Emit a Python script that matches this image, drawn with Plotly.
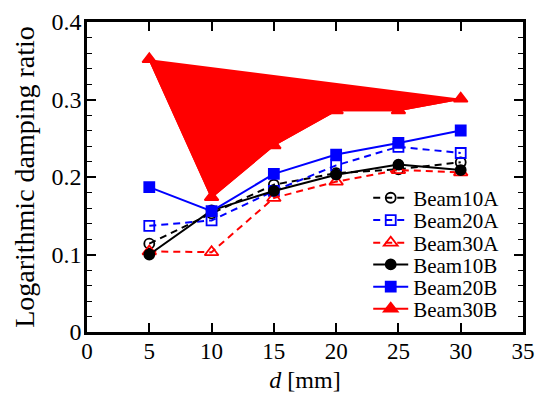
import plotly.graph_objects as go

d = [5, 10, 15, 20, 25, 30]
beam10A = [0.114, 0.153, 0.190, 0.205, 0.210, 0.219]
beam20A = [0.137, 0.144, 0.182, 0.215, 0.239, 0.231]
beam30A = [0.104, 0.103, 0.173, 0.194, 0.209, 0.206]
beam10B = [0.100, 0.157, 0.182, 0.203, 0.216, 0.209]
beam20B = [0.187, 0.156, 0.204, 0.229, 0.244, 0.260]
beam30B = [0.352, 0.174, 0.241, 0.286, 0.286, 0.301]

FONT = "Liberation Serif, Times New Roman, serif"
fig = go.Figure()

# filled polygon for Beam30B (closes back to first point)
fig.add_trace(go.Scatter(x=d, y=beam30B, mode="lines", fill="toself",
                         fillcolor="#ff0000", line=dict(color="#ff0000", width=2),
                         showlegend=False, hoverinfo="skip"))

series = [
    ("Beam10A", beam10A, "black", "7px,5px", "circle-open", 10),
    ("Beam20A", beam20A, "#0000ff", "7px,5px", "square-open", 10),
    ("Beam30A", beam30A, "#ff0000", "7px,5px", "triangle-up-open", 12),
    ("Beam10B", beam10B, "black", "solid", "circle", 10),
    ("Beam20B", beam20B, "#0000ff", "solid", "square", 10),
    ("Beam30B", beam30B, "#ff0000", "solid", "triangle-up", 12),
]
legend_y = [0.432, 0.360, 0.287, 0.217, 0.145, 0.074]
legend_names = ["legend", "legend2", "legend3", "legend4", "legend5", "legend6"]
for i, (name, ys, col, dash, sym, ms) in enumerate(series):
    fig.add_trace(go.Scatter(
        x=d, y=ys, name=name, mode="lines+markers",
        line=dict(color=col, width=2, dash=dash),
        marker=dict(symbol=sym, size=ms, color=col,
                    line=dict(color=col, width=1.8)),
        legend=legend_names[i],
    ))

layout_legends = {}
for i, ln in enumerate(legend_names):
    layout_legends[ln] = dict(x=0.645, y=legend_y[i], xanchor="left", yanchor="middle",
                              bgcolor="rgba(0,0,0,0)", borderwidth=0, itemwidth=35,
                              font=dict(family=FONT, size=21, color="black"))

fig.update_layout(
    width=536, height=388,
    margin=dict(l=79, r=21, t=14, b=64),
    paper_bgcolor="white", plot_bgcolor="white",
    font=dict(family=FONT, size=23, color="black"),
    showlegend=True,
    **layout_legends,
)
fig.update_xaxes(
    range=[0, 35], dtick=5, tick0=0, automargin=False,
    ticks="inside", ticklen=9, tickwidth=1.5, tickcolor="black",
    showline=True, linewidth=2.5, linecolor="black", mirror="ticks",
    showgrid=False, zeroline=False, ticklabelstandoff=-3,
    title=dict(text="<i>d</i> [mm]", font=dict(family=FONT, size=24), standoff=8),
    tickfont=dict(family=FONT, size=23),
)
fig.update_yaxes(
    range=[0, 0.4], dtick=0.1, tick0=0, automargin=False,
    ticks="inside", ticklen=9, tickwidth=1.5, tickcolor="black",
    minor=dict(dtick=0.02, ticks="inside", ticklen=5, tickwidth=1.2, tickcolor="black"),
    showline=True, linewidth=2.5, linecolor="black", mirror="ticks",
    showgrid=False, zeroline=False, ticklabelstandoff=-2,
    title=dict(text="Logarithmic damping ratio", font=dict(family=FONT, size=28), standoff=9),
    tickfont=dict(family=FONT, size=24),
)

fig.write_html("out.html")
